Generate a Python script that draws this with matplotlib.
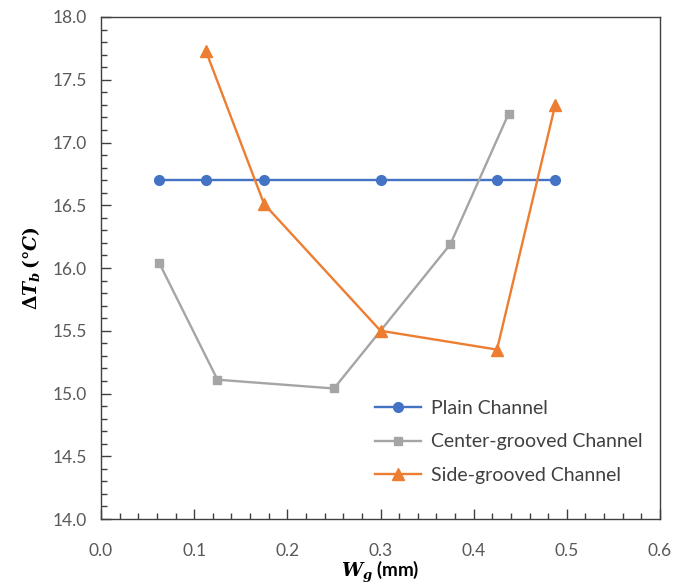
import numpy as np
import matplotlib
matplotlib.use("Agg")
import matplotlib.pyplot as plt
from matplotlib.ticker import MultipleLocator

plt.rcParams["font.family"] = ["Lato", "DejaVu Sans"]
plt.rcParams["mathtext.fontset"] = "custom"
plt.rcParams["mathtext.it"] = "DejaVu Serif:bold:italic"
plt.rcParams["mathtext.rm"] = "DejaVu Serif:bold"
plt.rcParams["mathtext.bf"] = "DejaVu Serif:bold"

# data
plain_x  = [0.0625, 0.1125, 0.175, 0.300, 0.425, 0.4875]
plain_y  = [16.70, 16.70, 16.70, 16.70, 16.70, 16.70]

center_x = [0.0625, 0.125, 0.250, 0.375, 0.4375]
center_y = [16.04, 15.11, 15.04, 16.19, 17.23]

side_x   = [0.1125, 0.175, 0.300, 0.425, 0.4875]
side_y   = [17.73, 16.51, 15.50, 15.35, 17.30]

fig = plt.figure(figsize=(6.78, 5.86), dpi=100)
ax = fig.add_axes([0.149, 0.1143, 0.8245, 0.8567])

ax.plot(plain_x, plain_y, color="#4472C4", lw=1.7, marker="o", ms=7,
        label="Plain Channel")
ax.plot(center_x, center_y, color="#A5A5A5", lw=1.7, marker="s", ms=6,
        label="Center-grooved Channel")
ax.plot(side_x, side_y, color="#ED7D31", lw=1.7, marker="^", ms=8,
        label="Side-grooved Channel")

ax.set_xlim(0, 0.6)
ax.set_ylim(14, 18)
ax.xaxis.set_major_locator(MultipleLocator(0.1))
ax.xaxis.set_minor_locator(MultipleLocator(0.02))
ax.yaxis.set_major_locator(MultipleLocator(0.5))
ax.yaxis.set_minor_locator(MultipleLocator(0.1))
ax.xaxis.set_major_formatter(plt.FormatStrFormatter("%.1f"))
ax.yaxis.set_major_formatter(plt.FormatStrFormatter("%.1f"))

ax.tick_params(which="both", direction="in", colors="#404040",
               labelcolor="#595959", labelsize=12.5, width=1)
ax.tick_params(which="major", length=7)
ax.tick_params(which="minor", length=4)
ax.tick_params(axis="x", which="major", pad=17)
ax.tick_params(axis="y", which="major", pad=10)

for s in ax.spines.values():
    s.set_color("#404040")
    s.set_linewidth(1)

ax.set_xlabel(r"$W_g$ (mm)", fontsize=13.5, fontweight="bold", labelpad=0)
ax.set_ylabel(r"$\Delta T_b\,(°C)$", fontsize=13.5, labelpad=8)

ax.legend(loc="lower right", bbox_to_anchor=(1.0, 0.035), frameon=False,
          fontsize=14, handlelength=2.4, handletextpad=0.5,
          labelspacing=0.85, labelcolor="#404040")

fig.savefig("out.png", dpi=100)
